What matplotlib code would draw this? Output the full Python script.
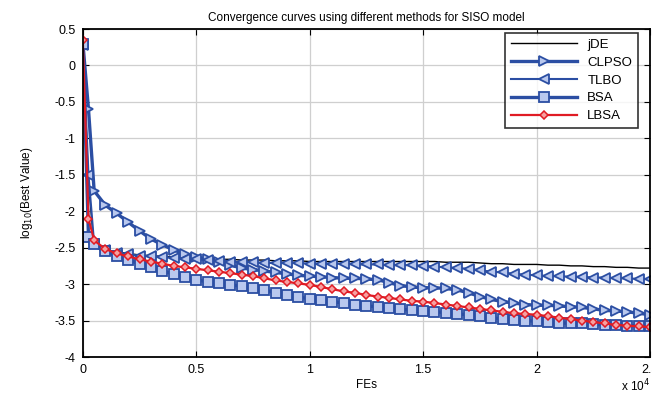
import matplotlib.pyplot as plt
from matplotlib.ticker import FuncFormatter

plt.rcParams['font.family'] = ['Liberation Sans', 'DejaVu Sans']

fes = [0, 250] + list(range(500, 25001, 500))

jde = [0.30, -1.60, -2.50, -2.53, -2.56, -2.58, -2.60, -2.61, -2.62, -2.63, -2.64, -2.65,
       -2.65, -2.66, -2.66, -2.67, -2.67, -2.67, -2.68, -2.68, -2.68, -2.69, -2.69, -2.69,
       -2.69, -2.69, -2.69, -2.69, -2.69, -2.69, -2.69, -2.69, -2.69, -2.70, -2.70, -2.70,
       -2.71, -2.72, -2.72, -2.73, -2.73, -2.73, -2.74, -2.74, -2.75, -2.75, -2.76, -2.76,
       -2.77, -2.77, -2.78, -2.78]
clpso = [0.32, -0.60, -1.72, -1.92, -2.03, -2.15, -2.27, -2.38, -2.46, -2.53, -2.59, -2.63,
         -2.66, -2.70, -2.74, -2.78, -2.80, -2.82, -2.84, -2.86, -2.88, -2.89, -2.90, -2.91,
         -2.92, -2.92, -2.93, -2.94, -2.98, -3.02, -3.04, -3.05, -3.05, -3.06, -3.08, -3.12,
         -3.17, -3.21, -3.24, -3.26, -3.28, -3.29, -3.29, -3.30, -3.31, -3.32, -3.34, -3.36,
         -3.37, -3.38, -3.40, -3.42]
tlbo = [0.28, -1.50, -2.45, -2.53, -2.57, -2.59, -2.61, -2.62, -2.63, -2.64, -2.65, -2.66,
        -2.67, -2.68, -2.69, -2.70, -2.70, -2.71, -2.71, -2.71, -2.71, -2.72, -2.72, -2.72,
        -2.72, -2.73, -2.73, -2.73, -2.74, -2.74, -2.74, -2.75, -2.76, -2.77, -2.78, -2.79,
        -2.81, -2.83, -2.84, -2.86, -2.87, -2.88, -2.89, -2.89, -2.90, -2.90, -2.91, -2.91,
        -2.92, -2.92, -2.93, -2.93]
bsa = [0.30, -2.35, -2.45, -2.55, -2.62, -2.67, -2.72, -2.77, -2.82, -2.86, -2.90, -2.94,
       -2.97, -2.99, -3.01, -3.03, -3.05, -3.08, -3.12, -3.15, -3.18, -3.20, -3.22, -3.24,
       -3.26, -3.28, -3.30, -3.31, -3.33, -3.34, -3.36, -3.37, -3.38, -3.39, -3.41, -3.42,
       -3.44, -3.46, -3.48, -3.49, -3.50, -3.51, -3.52, -3.53, -3.54, -3.54, -3.55, -3.56,
       -3.56, -3.57, -3.57, -3.58]
lbsa = [0.35, -2.10, -2.40, -2.52, -2.58, -2.62, -2.66, -2.69, -2.72, -2.75, -2.77, -2.79,
        -2.81, -2.83, -2.85, -2.87, -2.89, -2.92, -2.95, -2.97, -2.99, -3.01, -3.04, -3.07,
        -3.10, -3.12, -3.15, -3.17, -3.19, -3.21, -3.23, -3.24, -3.26, -3.28, -3.30, -3.32,
        -3.34, -3.36, -3.38, -3.40, -3.41, -3.42, -3.44, -3.46, -3.48, -3.50, -3.52, -3.54,
        -3.56, -3.57, -3.58, -3.59]

blue = '#2b4ea3'
face = '#b9c8ee'

fig = plt.figure(figsize=(6.52, 4.0), dpi=100)
ax = fig.add_axes([0.127, 0.1075, 0.870, 0.82])

ax.plot(fes, jde, color='black', lw=1.0, label='jDE')
ax.plot(fes, clpso, color=blue, lw=2.4, marker='>', ms=7, mfc=face, mec=blue, mew=1.3, label='CLPSO')
ax.plot(fes, tlbo, color=blue, lw=1.5, marker='<', ms=7, mfc=face, mec=blue, mew=1.3, label='TLBO')
ax.plot(fes, bsa, color=blue, lw=2.4, marker='s', ms=6.5, mfc=face, mec=blue, mew=1.3, label='BSA')
ax.plot(fes, lbsa, color='#e01b24', lw=1.6, marker='D', ms=4.5, mfc='#f7a0a0', mec='#e01b24', mew=1.1, label='LBSA')

ax.set_xlim(0, 25000)
ax.set_ylim(-4, 0.5)
ax.set_xticks([0, 5000, 10000, 15000, 20000, 25000])
ax.set_yticks([-4, -3.5, -3, -2.5, -2, -1.5, -1, -0.5, 0, 0.5])
ax.xaxis.set_major_formatter(FuncFormatter(lambda v, p: '%g' % (v / 1e4)))
ax.yaxis.set_major_formatter(FuncFormatter(lambda v, p: '%g' % v))
fig.text(0.997, 0.035, r'x 10$^4$', ha='right', va='center', fontsize=8.5)

ax.grid(True, color='#cfcfcf', lw=0.9)
ax.tick_params(direction='in', top=True, right=True, labelsize=9, length=4, pad=5)
for s in ax.spines.values():
    s.set_linewidth(1.3)

ax.set_title('Convergence curves using different methods for SISO model', fontsize=8.5, pad=6)
ax.set_xlabel('FEs', fontsize=8.5, labelpad=2)
ax.set_ylabel(r'log$_{10}$(Best Value)', fontsize=8.5, labelpad=14)

leg = ax.legend(loc='upper right', bbox_to_anchor=(0.979, 0.988), borderaxespad=0,
                fontsize=9.5, frameon=True, fancybox=False, edgecolor='black',
                handlelength=5.0, labelspacing=0.42, borderpad=0.45)
leg.get_frame().set_linewidth(1.2)

fig.savefig('out.png', dpi=100)
